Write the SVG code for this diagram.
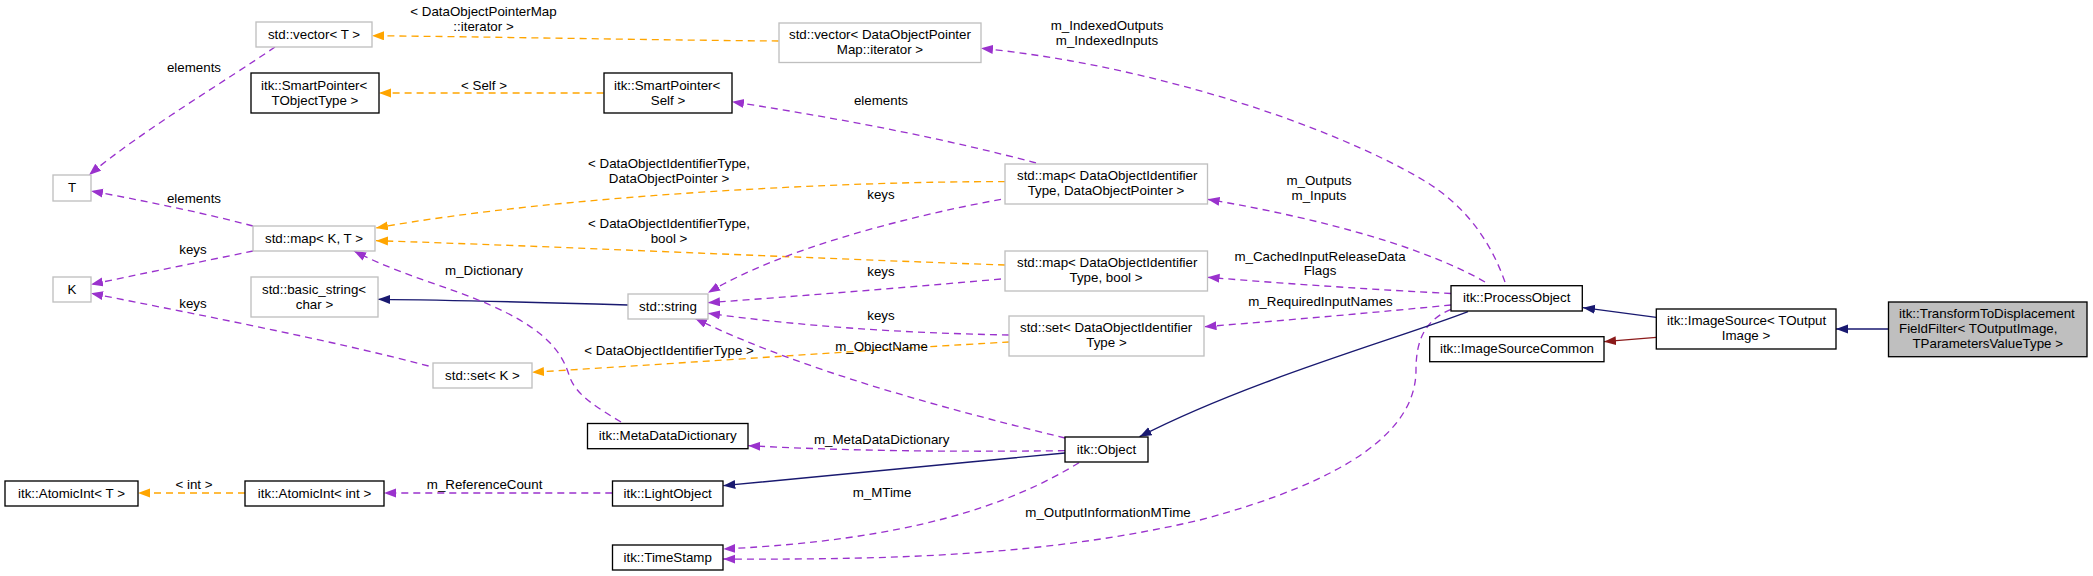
<svg xmlns="http://www.w3.org/2000/svg" width="2093" height="576" viewBox="0 0 2093 576">
<style>
text{font-family:"Liberation Sans",Arial,Helvetica,sans-serif;font-size:13.33px;fill:#000}
.m{text-anchor:middle}
.s{text-anchor:start}
.g{fill:#fff;stroke:#bfbfbf;stroke-width:1.33}
.b{fill:#fff;stroke:#000;stroke-width:1.33}
.f{fill:#bfbfbf;stroke:#000;stroke-width:1.33}
.e{fill:none;stroke-width:1.33}
.p{stroke:#9a32cd;stroke-dasharray:7,5;marker-end:url(#ap)}
.o{stroke:#ffa500;stroke-dasharray:7,5;marker-end:url(#ao)}
.n{stroke:#191970;marker-end:url(#an)}
.r{stroke:#8b1a1a;marker-end:url(#ar)}
</style>
<defs>
<marker id="ap" markerUnits="userSpaceOnUse" markerWidth="13" markerHeight="10" refX="12" refY="4.5" orient="auto"><path d="M0,0 L12,4.5 L0,9 z" fill="#9a32cd"/></marker>
<marker id="ao" markerUnits="userSpaceOnUse" markerWidth="13" markerHeight="10" refX="12" refY="4.5" orient="auto"><path d="M0,0 L12,4.5 L0,9 z" fill="#ffa500"/></marker>
<marker id="an" markerUnits="userSpaceOnUse" markerWidth="13" markerHeight="10" refX="12" refY="4.5" orient="auto"><path d="M0,0 L12,4.5 L0,9 z" fill="#191970"/></marker>
<marker id="ar" markerUnits="userSpaceOnUse" markerWidth="13" markerHeight="10" refX="12" refY="4.5" orient="auto"><path d="M0,0 L12,4.5 L0,9 z" fill="#8b1a1a"/></marker>
</defs>
<rect width="2093" height="576" fill="#fff"/>
<g id="connectors">
<path class="e p" d="M275,47 C230,78 140,132 89,175"/>
<text class="m" x="194" y="72">elements</text>
<path class="e p" d="M253,226 C200,212 140,200 91,191"/>
<text class="m" x="194" y="202.5">elements</text>
<path class="e p" d="M253,251 C200,262 140,274 91,284.5"/>
<text class="m" x="193" y="254">keys</text>
<path class="e p" d="M428.6,366 C330,340 200,315 91,293.3"/>
<text class="m" x="193" y="308">keys</text>
<path class="e n" d="M628,305 C560,303 450,300 378,299.3"/>
<path class="e o" d="M778.6,41 C650,40 500,37 372,35.7"/>
<text class="m" x="483.5" y="16">&lt; DataObjectPointerMap</text>
<text class="m" x="483.5" y="31">::iterator &gt;</text>
<path class="e o" d="M603.6,93 L379,93"/>
<text class="m" x="484" y="90">&lt; Self &gt;</text>
<path class="e o" d="M1005,181.7 C850,181 560,195 376,228"/>
<text class="m" x="669" y="168">&lt; DataObjectIdentifierType,</text>
<text class="m" x="669" y="183">DataObjectPointer &gt;</text>
<path class="e o" d="M1005,265 C800,258 550,246 376,240.7"/>
<text class="m" x="669" y="228">&lt; DataObjectIdentifierType,</text>
<text class="m" x="669" y="243">bool &gt;</text>
<path class="e o" d="M1009,342 C900,348 700,362 532,372.3"/>
<text class="m" x="669" y="355">&lt; DataObjectIdentifierType &gt;</text>
<path class="e p" d="M1036,163 C950,140 850,120 732,101.7"/>
<text class="m" x="881" y="104.5">elements</text>
<path class="e p" d="M1001,199.3 C900,218 780,250 708,292.7"/>
<text class="m" x="881" y="199">keys</text>
<path class="e p" d="M1001,279 C900,288 800,296 708,302.7"/>
<text class="m" x="881" y="276">keys</text>
<path class="e p" d="M1009,335 C900,333 800,326 708,313.3"/>
<text class="m" x="881" y="319.5">keys</text>
<path class="e p" d="M1065,438 C950,410 800,370 695,318.3"/>
<text class="m" x="881.5" y="350.7">m_ObjectName</text>
<path class="e p" d="M621,422 C598,408 575,395 569,375 C560,345 535,325 490,305 C450,287 400,275 354,251"/>
<text class="m" x="484" y="275">m_Dictionary</text>
<path class="e p" d="M1065,450.7 C950,452 850,451 748.3,445.7"/>
<text class="m" x="881.7" y="444">m_MetaDataDictionary</text>
<path class="e n" d="M1065,453 C950,464 830,475 723.3,485.7"/>
<path class="e p" d="M612.3,493 L384,493"/>
<text class="m" x="484.6" y="489">m_ReferenceCount</text>
<path class="e o" d="M245,493 L138,493"/>
<text class="m" x="194" y="489">&lt; int &gt;</text>
<path class="e p" d="M1079,462.7 C1010,505 910,540 723.3,549"/>
<text class="m" x="882" y="496.7">m_MTime</text>
<path class="e p" d="M1451,309.3 C1425,320 1416,340 1416,370 C1416,430 1350,480 1200,520 C1050,555 900,560 723.3,559"/>
<text class="m" x="1108" y="517">m_OutputInformationMTime</text>
<path class="e p" d="M1505,282 C1490,240 1465,205 1423,180 C1330,125 1150,65 981,48.3"/>
<text class="m" x="1107" y="30">m_IndexedOutputs</text>
<text class="m" x="1107" y="44.7">m_IndexedInputs</text>
<path class="e p" d="M1485,282 C1430,250 1330,220 1207.6,199.3"/>
<text class="m" x="1319" y="184.5">m_Outputs</text>
<text class="m" x="1319" y="199.5">m_Inputs</text>
<path class="e p" d="M1451,293.5 C1380,290 1290,284 1207.6,277.3"/>
<text class="m" x="1320" y="260.5">m_CachedInputReleaseData</text>
<text class="m" x="1320" y="275">Flags</text>
<path class="e p" d="M1451,305 C1380,312 1290,320 1204.5,326.7"/>
<text class="m" x="1320.5" y="305.5">m_RequiredInputNames</text>
<path class="e n" d="M1468,311.7 C1400,338 1250,380 1139.6,436.7"/>
<path class="e n" d="M1656.3,317.3 L1583,307.7"/>
<path class="e r" d="M1656.3,337.3 L1604,341.7"/>
<path class="e n" d="M1888.5,329 L1836,329"/>
</g>
<g id="n_T"><rect class="g" x="53" y="175" width="38" height="26"/><text class="m" x="72" y="191.5">T</text></g>
<g id="n_K"><rect class="g" x="53" y="277" width="38" height="25"/><text class="m" x="72" y="293.5">K</text></g>
<g id="n_vectorT"><rect class="g" x="256" y="22" width="116" height="25"/><text class="m" x="314" y="38.5">std::vector&lt; T &gt;</text></g>
<g id="n_SmartPointerTObjectType"><rect class="b" x="251" y="73" width="128" height="40"/><text class="s" x="261" y="89.5">itk::SmartPointer&lt;</text><text class="m" x="315" y="104.5">TObjectType &gt;</text></g>
<g id="n_mapKT"><rect class="g" x="253" y="226" width="122" height="25"/><text class="m" x="314" y="242.5">std::map&lt; K, T &gt;</text></g>
<g id="n_basic_string"><rect class="g" x="251" y="277" width="127" height="40"/><text class="s" x="262" y="293.5">std::basic_string&lt;</text><text class="m" x="314.5" y="308.5">char &gt;</text></g>
<g id="n_setK"><rect class="g" x="433" y="363" width="99" height="25"/><text class="m" x="482.5" y="379.5">std::set&lt; K &gt;</text></g>
<g id="n_AtomicIntT"><rect class="b" x="5" y="481" width="133" height="25"/><text class="m" x="71.5" y="497.5">itk::AtomicInt&lt; T &gt;</text></g>
<g id="n_AtomicIntInt"><rect class="b" x="245" y="481" width="139" height="25"/><text class="m" x="314.5" y="497.5">itk::AtomicInt&lt; int &gt;</text></g>
<g id="n_string"><rect class="g" x="628" y="294" width="80" height="25"/><text class="m" x="668" y="310.5">std::string</text></g>
<g id="n_MetaDataDictionary"><rect class="b" x="587.5" y="423.5" width="160.5" height="25.2"/><text class="m" x="667.7" y="440">itk::MetaDataDictionary</text></g>
<g id="n_LightObject"><rect class="b" x="612.5" y="481" width="110.5" height="25"/><text class="m" x="667.7" y="497.5">itk::LightObject</text></g>
<g id="n_TimeStamp"><rect class="b" x="612.5" y="545" width="110.5" height="25"/><text class="m" x="667.7" y="561.5">itk::TimeStamp</text></g>
<g id="n_vectorDOP"><rect class="g" x="779" y="23" width="202" height="39.5"/><text class="s" x="789" y="39">std::vector&lt; DataObjectPointer</text><text class="m" x="880" y="54">Map::iterator &gt;</text></g>
<g id="n_SmartPointerSelf"><rect class="b" x="604" y="73" width="128" height="40"/><text class="s" x="614" y="89.5">itk::SmartPointer&lt;</text><text class="m" x="668" y="104.5">Self &gt;</text></g>
<g id="n_mapDOP"><rect class="g" x="1005" y="164" width="202.5" height="40"/><text class="s" x="1017" y="180">std::map&lt; DataObjectIdentifier</text><text class="m" x="1106" y="195">Type, DataObjectPointer &gt;</text></g>
<g id="n_mapBool"><rect class="g" x="1005" y="251" width="202.5" height="40"/><text class="s" x="1017" y="267">std::map&lt; DataObjectIdentifier</text><text class="m" x="1106" y="282">Type, bool &gt;</text></g>
<g id="n_setDOI"><rect class="g" x="1009" y="316" width="195" height="40"/><text class="s" x="1020" y="332">std::set&lt; DataObjectIdentifier</text><text class="m" x="1106.5" y="347">Type &gt;</text></g>
<g id="n_Object"><rect class="b" x="1065" y="437" width="83" height="25"/><text class="m" x="1106.5" y="453.5">itk::Object</text></g>
<g id="n_ProcessObject"><rect class="b" x="1451" y="285.7" width="131.3" height="25.3"/><text class="m" x="1516.7" y="302">itk::ProcessObject</text></g>
<g id="n_ImageSourceCommon"><rect class="b" x="1429.7" y="336.7" width="174.3" height="25"/><text class="m" x="1517" y="353">itk::ImageSourceCommon</text></g>
<g id="n_ImageSource"><rect class="b" x="1656.3" y="309" width="179.7" height="40"/><text class="s" x="1667" y="325">itk::ImageSource&lt; TOutput</text><text class="m" x="1746" y="340">Image &gt;</text></g>
<g id="n_TransformToDisplacementFieldFilter"><rect class="f" x="1888.5" y="302" width="198.5" height="54.7"/><text class="s" x="1899" y="318">itk::TransformToDisplacement</text><text class="s" x="1899" y="333">FieldFilter&lt; TOutputImage,</text><text class="m" x="1987.7" y="348">TParametersValueType &gt;</text></g>
</svg>
